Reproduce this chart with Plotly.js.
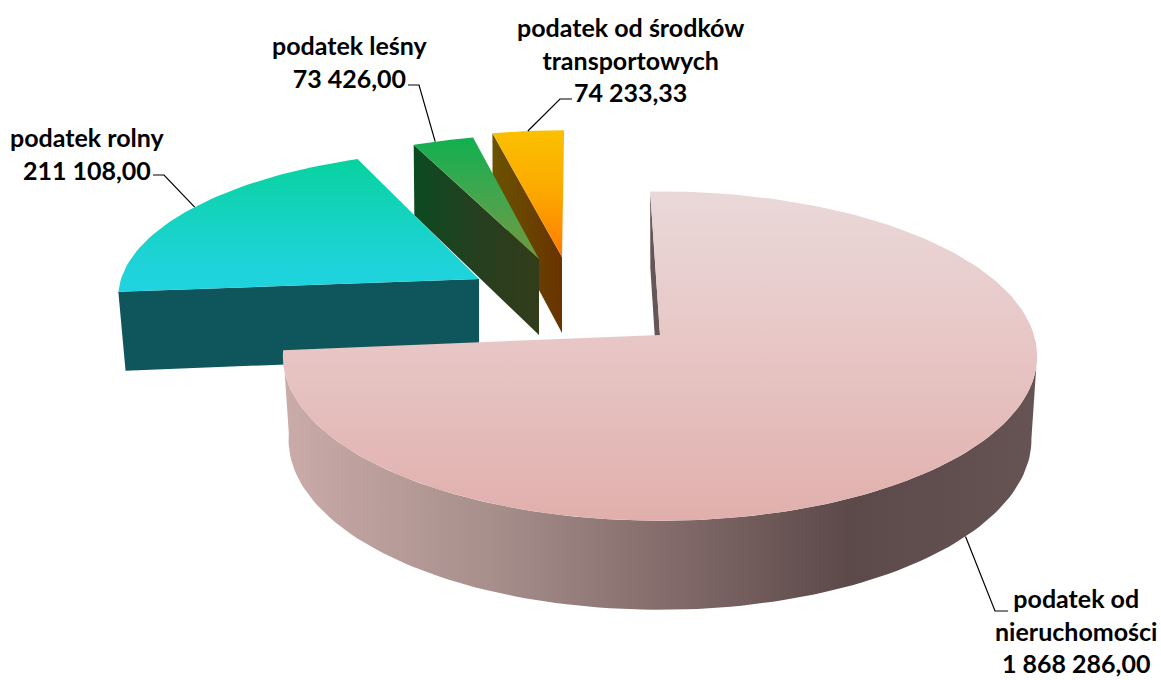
<!DOCTYPE html>
<html><head><meta charset="utf-8">
<script src="https://cdn.plot.ly/plotly-3.0.1.min.js"></script>
<style>html,body{margin:0;padding:0;background:#fff}#c{width:1161px;height:680px}</style>
</head><body><div id="c"></div>
<script>
// Data
const categories = ["podatek od<br>nieruchomości", "podatek rolny", "podatek leśny", "podatek od środków<br>transportowych"];
const taxValues = [1868286.00, 211108.00, 73426.00, 74233.33];
// Angular extent of each slice as it is drawn in the picture (degrees clockwise from the far side)
const sliceStartDeg = [-1.7, 265, -24.3, -13.3];
const sliceEndDeg = [264.7, 337.7, -12.6, 0.4];

// Pie geometry in page pixels
const K = 0.128;
const geo = [
  {cx:660, cy:335, R:374, a:162, hB:76, hF:89, shrink:0.015},
  {cx:479, cy:279, R:358, a:145, hB:68, hF:88, shrink:0.02},
  {cx:539, cy:259, R:340, a:140, hB:70, hF:82, shrink:0.005},
  {cx:562, cy:257, R:340, a:143, hB:70, hF:82, shrink:0.002}
];
function P(i, deg, r, z){
  const s = geo[i], t = deg*Math.PI/180, u = r*Math.sin(t), v = -r*Math.cos(t), d = 1-K*v;
  return [s.cx + s.R*u/d*(1-s.shrink*z), s.cy + s.a*v/d + z*(s.hB+(s.hF-s.hB)*(v+1)/2)];
}
function arc(i, a, b, z){
  const n = Math.max(2, Math.ceil(Math.abs(b-a)/1.5)), out = [];
  for(let j=0;j<=n;j++) out.push(P(i, a+(b-a)*j/n, 1, z));
  return out;
}
function poly(pts, fillgradient, fillcolor){
  const closed = pts.concat([pts[0]]);
  const t = {type:'scatter', mode:'lines', x:closed.map(p=>p[0]), y:closed.map(p=>p[1]),
    fill:'toself', line:{width:0, color:'rgba(0,0,0,0)'}, hoverinfo:'skip', showlegend:false};
  if(fillgradient) t.fillgradient = fillgradient;
  if(fillcolor) t.fillcolor = fillcolor;
  return t;
}
function grad(type, start, stop, cols){
  return {type, start, stop, colorscale:cols};
}
function topFace(i, cols, y0, y1){
  return poly(arc(i, sliceStartDeg[i], sliceEndDeg[i], 0).concat([P(i,0,0,0)]), grad('vertical', y0, y1, cols));
}
function cutFace(i, deg, g, c){
  return poly([P(i,deg,1,0), P(i,deg,1,1), P(i,0,0,1), P(i,0,0,0)], g, c);
}
const traces = [];
// transport
traces.push(cutFace(3, sliceStartDeg[3], grad('horizontal',493,562,[[0,'#6b5200'],[0.5,'#6a4300'],[1,'#683300']])));
traces.push(topFace(3, [[0,'#fcc000'],[0.45,'#fbab00'],[1,'#ff7c00']], 131, 257));
// forest
traces.push(cutFace(2, sliceStartDeg[2], grad('horizontal',413,539,[[0,'#0b4b22'],[0.5,'#263f1f'],[1,'#323c1a']])));
traces.push(topFace(2, [[0,'#10b050'],[0.5,'#45a64e'],[1,'#72983f']], 136, 259));
// agricultural
traces.push(cutFace(1, sliceStartDeg[1], null, '#0f565c'));
traces.push(topFace(1, [[0,'#08d29e'],[0.75,'#1dd3d6'],[1,'#20d3e0']], 158, 290));
// real estate: far cut wall, rim, top
traces.push(cutFace(0, sliceStartDeg[0], null, '#655758'));
traces.push(poly(arc(0, 97, sliceEndDeg[0], 0).concat(arc(0, sliceEndDeg[0], 97, 1)),
  grad('horizontal',285,1038,[[0,'#caaba9'],[0.28,'#a68e8b'],[0.55,'#7d6565'],[0.75,'#5c4949'],[1,'#665454']])));
traces.push(topFace(0, [[0,'#ead8d8'],[0.5,'#e7c5c4'],[1,'#e0afac']], 193, 521));

// Leader lines: start on the rim of their slice, then elbow to the label
const leaders = [
  {i:0, deg:130.5, z:1, pts:[[995,611],[1008,611]]},
  {i:1, deg:-58, z:0, pts:[[164,175],[153,175]]},
  {i:2, deg:-20, z:0, pts:[[419,85],[408,85]]},
  {i:3, deg:-6.5, z:0, pts:[[560,99],[572,99]]}
];
leaders.forEach(l=>{
  const pts = [P(l.i,l.deg,1,l.z)].concat(l.pts);
  traces.push({type:'scatter', mode:'lines', x:pts.map(p=>p[0]), y:pts.map(p=>p[1]),
    line:{color:'#000', width:1.2}, hoverinfo:'skip', showlegend:false});
});

// Labels
const labelPos = [[1076,630.5],[87,153],[350,61],[630,59]];
function fmt(v){
  const [a,b] = v.toFixed(2).split('.');
  return a.replace(/\B(?=(\d{3})+$)/g,' ') + ',' + b;
}
const annotations = categories.map((c,i)=>({
  x:labelPos[i][0], y:labelPos[i][1], xref:'x', yref:'y', xanchor:'center', yanchor:'middle',
  text:c+'<br>'+fmt(taxValues[i]), showarrow:false, align:'center',
  font:{family:'Lato, sans-serif', size:25, color:'#000', weight:700}
}));

Plotly.newPlot('c', traces, {
  width:1161, height:680, margin:{l:0,r:0,t:0,b:0}, paper_bgcolor:'#fff', plot_bgcolor:'#fff', showlegend:false,
  xaxis:{range:[0,1161], visible:false, fixedrange:true},
  yaxis:{range:[680,0], visible:false, fixedrange:true},
  annotations
}, {displayModeBar:false, staticPlot:true});
</script></body></html>
